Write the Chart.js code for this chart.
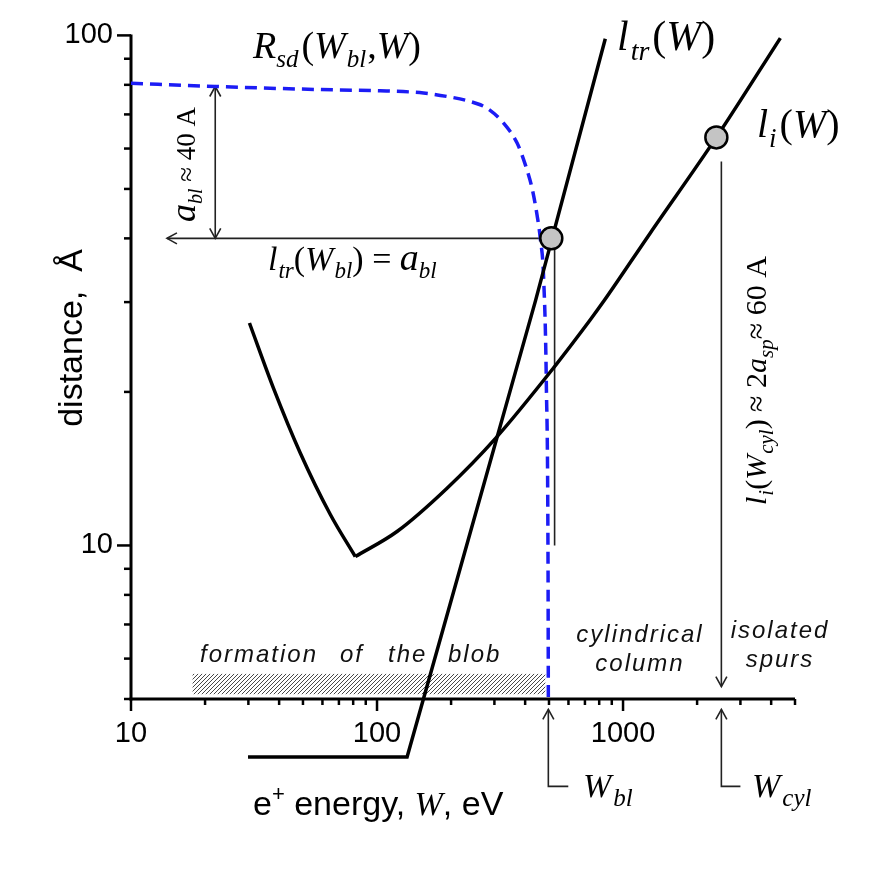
<!DOCTYPE html>
<html>
<head>
<meta charset="utf-8">
<script src="https://cdn.jsdelivr.net/npm/chart.js@4.4.1/dist/chart.umd.min.js"></script>
<style>
  html, body { margin: 0; padding: 0; background: #fff; }
  #wrap { width: 872px; height: 872px; }
</style>
</head>
<body>
<div id="wrap"><canvas id="chart" width="872" height="872"></canvas></div>
<script>
// values: energy W in eV, distance in Angstrom
const rsdEnergy   = [10, 22, 66.4, 103, 154.5, 192.6, 239.4, 280, 327, 371, 400.6, 426.6, 447, 461, 475.6, 487.8, 495.6, 497];
const rsdDistance = [80.6, 79.4, 78.2, 77.9, 77.1, 75.9, 74.2, 72.0, 67.3, 61.5, 55.8, 50.2, 44.5, 40.0, 33.4, 20.7, 9.17, 5];

const ltrEnergy   = [29.9, 132.5, 218, 440, 847];
const ltrDistance = [3.85, 3.85, 9.03, 30.1, 98.5];

const liEnergy    = [30.3, 38.0, 48.7, 64.6, 81.6, 120.6, 192.6, 302.6, 522, 736, 834, 1291, 2395, 4359];
const liDistance  = [27.3, 20.3, 15.2, 11.5, 9.51, 10.65, 12.95, 16.2, 22.3, 27.7, 30.1, 41.0, 63.1, 98.8];
const liMinIndex  = 4;

const markEnergy   = [511, 2395];
const markDistance = [40, 63.1];

const xTicks  = [10, 20, 30, 40, 50, 60, 70, 80, 90, 100, 200, 300, 400, 500, 600, 700, 800, 900, 1000, 2000, 3000, 4000, 5000];
const xLabels = [10, 100, 1000];
const yTicks  = [5, 6, 7, 8, 9, 10, 20, 30, 40, 50, 60, 70, 80, 90, 100];
const yLabels = [10, 100];

const wBl = 497;          // W_bl
const wCyl = 2510;        // W_cyl
const aBl = 40;           // a_bl
const aBlArrowW = 22;
const abArrowTipW = 14;
const ltrDropW = 527;
const liDropTop = 56.6;
const liDropEnd = 5.29;
const belowAxis = [3.37, 4.77];
const bracketEnd = [599, 3000];
const blobEnergy = [17.8, 483];
const blobDistance = [5.11, 5.6];

const SERIF = '"Liberation Serif", "Times New Roman", serif';
const SANS = '"Liberation Sans", Arial, sans-serif';
function fnt(size, italic, fam) { return (italic ? 'italic ' : '') + size + 'px ' + fam; }

function pts(xs, ys) { return xs.map((x, i) => ({x: x, y: ys[i]})); }

function rich(ctx, x, y, runs) {
  let cx = x;
  runs.forEach(r => {
    ctx.font = r.f;
    ctx.fillText(r.t, cx, y + (r.dy || 0));
    cx += ctx.measureText(r.t).width + (r.gap || 0);
  });
}

function line(ctx, x1, y1, x2, y2) {
  ctx.beginPath(); ctx.moveTo(x1, y1); ctx.lineTo(x2, y2); ctx.stroke();
}

function head(ctx, x, y, dx, dy) {
  const len = 10, half = 5.5;
  const bx = x - dx * len, by = y - dy * len;
  ctx.beginPath();
  ctx.moveTo(bx - dy * half, by + dx * half);
  ctx.lineTo(x, y);
  ctx.lineTo(bx + dy * half, by - dx * half);
  ctx.stroke();
}

function hatch(ctx) {
  const c = document.createElement('canvas');
  c.width = 4; c.height = 4;
  const g = c.getContext('2d');
  g.strokeStyle = '#333'; g.lineWidth = 0.9;
  g.beginPath();
  g.moveTo(0, 4); g.lineTo(4, 0);
  g.moveTo(-1, 1); g.lineTo(1, -1);
  g.moveTo(3, 5); g.lineTo(5, 3);
  g.stroke();
  return ctx.createPattern(c, 'repeat');
}

const decor = {
  id: 'decor',
  beforeDatasetsDraw(chart) {
    const {ctx, chartArea: a, scales: {x, y}} = chart;
    const px = v => x.getPixelForValue(v), py = v => y.getPixelForValue(v);
    ctx.save();

    // hatched band
    ctx.fillStyle = hatch(ctx);
    ctx.fillRect(px(blobEnergy[0]), py(blobDistance[1]), px(blobEnergy[1]) - px(blobEnergy[0]), py(blobDistance[0]) - py(blobDistance[1]));

    ctx.fillStyle = '#111';
    ctx.font = fnt(24, true, SANS);
    ctx.letterSpacing = '2px';
    ctx.textBaseline = 'alphabetic';
    const words = ['formation', 'of', 'the', 'blob'];
    const wx = [200, 340, 388, 448];
    words.forEach((w, i) => ctx.fillText(w, wx[i], 662));
    ctx.letterSpacing = '0px';

    // axes and ticks
    ctx.strokeStyle = '#000';
    ctx.lineWidth = 3;
    line(ctx, a.left, a.top - 1, a.left, a.bottom + 1.5);
    line(ctx, a.left - 1.5, a.bottom, a.right, a.bottom);
    ctx.lineWidth = 2.5;
    yTicks.forEach(v => {
      const len = yLabels.includes(v) ? 14 : 7;
      line(ctx, a.left - len, py(v), a.left, py(v));
    });
    xTicks.forEach(v => {
      const len = xLabels.includes(v) ? 12 : 6;
      line(ctx, px(v), a.bottom, px(v), a.bottom + len);
    });

    // thin construction lines
    ctx.strokeStyle = '#222';
    ctx.lineWidth = 1.6;
    line(ctx, px(markEnergy[0]), py(aBl), px(abArrowTipW), py(aBl));
    head(ctx, px(abArrowTipW), py(aBl), -1, 0);
    line(ctx, px(aBlArrowW), py(rsdDistance[1]), px(aBlArrowW), py(aBl));
    head(ctx, px(aBlArrowW), py(rsdDistance[1]), 0, -1);
    head(ctx, px(aBlArrowW), py(aBl), 0, 1);
    line(ctx, px(ltrDropW), py(aBl), px(ltrDropW), py(10));
    line(ctx, px(wCyl), py(liDropTop), px(wCyl), py(liDropEnd));
    head(ctx, px(wCyl), py(liDropEnd), 0, 1);
    [wBl, wCyl].forEach((w, i) => {
      ctx.beginPath();
      ctx.moveTo(px(bracketEnd[i]), py(belowAxis[0]));
      ctx.lineTo(px(w), py(belowAxis[0]));
      ctx.lineTo(px(w), py(belowAxis[1]));
      ctx.stroke();
      head(ctx, px(w), py(belowAxis[1]), 0, -1);
    });
    ctx.restore();
  },
  afterDraw(chart) {
    const {ctx} = chart;
    ctx.save();
    ctx.fillStyle = '#000';
    ctx.textBaseline = 'alphabetic';
    ctx.textAlign = 'left';

    rich(ctx, 253, 58, [
      {t: 'R', f: fnt(38, true, SERIF)},
      {t: 'sd', f: fnt(25, true, SERIF), dy: 9, gap: 3},
      {t: '(', f: fnt(38, false, SERIF)},
      {t: 'W', f: fnt(38, true, SERIF), gap: 1},
      {t: 'bl', f: fnt(25, true, SERIF), dy: 9, gap: 1},
      {t: ',', f: fnt(38, false, SERIF)},
      {t: 'W', f: fnt(38, true, SERIF)},
      {t: ')', f: fnt(38, false, SERIF)}
    ]);
    rich(ctx, 617, 50, [
      {t: 'l', f: fnt(42, true, SERIF), gap: 2},
      {t: 'tr', f: fnt(28, true, SERIF), dy: 10, gap: 3},
      {t: '(', f: fnt(42, false, SERIF)},
      {t: 'W', f: fnt(42, true, SERIF)},
      {t: ')', f: fnt(42, false, SERIF)}
    ]);
    rich(ctx, 757, 137, [
      {t: 'l', f: fnt(40, true, SERIF), gap: 1},
      {t: 'i', f: fnt(27, true, SERIF), dy: 10, gap: 3},
      {t: '(', f: fnt(40, false, SERIF)},
      {t: 'W', f: fnt(40, true, SERIF)},
      {t: ')', f: fnt(40, false, SERIF)}
    ]);
    rich(ctx, 268, 270, [
      {t: 'l', f: fnt(34, true, SERIF), gap: 1},
      {t: 'tr', f: fnt(23, true, SERIF), dy: 8},
      {t: '(', f: fnt(34, false, SERIF)},
      {t: 'W', f: fnt(34, true, SERIF), gap: 1},
      {t: 'bl', f: fnt(23, true, SERIF), dy: 8},
      {t: ') = ', f: fnt(34, false, SERIF)},
      {t: 'a', f: fnt(38, true, SERIF)},
      {t: 'bl', f: fnt(23, true, SERIF), dy: 8}
    ]);
    rich(ctx, 583, 797, [
      {t: 'W', f: fnt(34, true, SERIF), gap: 2},
      {t: 'bl', f: fnt(25, true, SERIF), dy: 9}
    ]);
    rich(ctx, 752, 797, [
      {t: 'W', f: fnt(34, true, SERIF), gap: 2},
      {t: 'cyl', f: fnt(25, true, SERIF), dy: 9}
    ]);

    // rotated annotations
    ctx.save();
    ctx.translate(195, 222);
    ctx.rotate(-Math.PI / 2);
    rich(ctx, 0, 0, [
      {t: 'a', f: fnt(36, true, SERIF)},
      {t: 'bl', f: fnt(20, true, SERIF), dy: 7},
      {t: ' \u2248 40 A', f: fnt(27, false, SERIF)}
    ]);
    ctx.restore();

    ctx.save();
    ctx.translate(766, 505);
    ctx.rotate(-Math.PI / 2);
    rich(ctx, 0, 0, [
      {t: 'l', f: fnt(30, true, SERIF), gap: 1},
      {t: 'i', f: fnt(21, true, SERIF), dy: 7},
      {t: '(', f: fnt(30, false, SERIF)},
      {t: 'W', f: fnt(30, true, SERIF), gap: 1},
      {t: 'cyl', f: fnt(21, true, SERIF), dy: 7},
      {t: ') \u2248 2', f: fnt(30, false, SERIF)},
      {t: 'a', f: fnt(30, true, SERIF)},
      {t: 'sp', f: fnt(21, true, SERIF), dy: 7},
      {t: '\u2248 60 A', f: fnt(30, false, SERIF)}
    ]);
    ctx.restore();

    // region labels
    ctx.fillStyle = '#111';
    ctx.font = fnt(24, true, SANS);
    ctx.letterSpacing = '2px';
    ctx.textAlign = 'center';
    ctx.fillText('cylindrical', 640, 642);
    ctx.fillText('column', 640, 671);
    ctx.fillText('isolated', 780, 638);
    ctx.fillText('spurs', 780, 667);
    ctx.letterSpacing = '0px';

    // axis titles
    ctx.fillStyle = '#000';
    ctx.save();
    ctx.translate(82, 338);
    ctx.rotate(-Math.PI / 2);
    ctx.font = fnt(34, false, SANS);
    ctx.fillText('distance,  \u00C5', 0, 0);
    ctx.restore();

    ctx.textAlign = 'left';
    rich(ctx, 253, 815, [
      {t: 'e', f: fnt(34, false, SANS)},
      {t: '+', f: fnt(22, false, SANS), dy: -14},
      {t: ' energy, ', f: fnt(34, false, SANS)},
      {t: 'W', f: fnt(34, true, SERIF)},
      {t: ', eV', f: fnt(34, false, SANS)}
    ]);
    ctx.restore();
  }
};

const lineBase = {
  showLine: true,
  pointRadius: 0,
  pointHoverRadius: 0,
  fill: false,
  clip: false,
  borderColor: '#000',
  borderWidth: 3.5
};

const liPoints = pts(liEnergy, liDistance);

new Chart(document.getElementById('chart'), {
  type: 'scatter',
  data: {
    datasets: [
      {
        label: 'marks',
        data: pts(markEnergy, markDistance),
        showLine: false,
        pointRadius: 11,
        pointHoverRadius: 11,
        pointBackgroundColor: '#c4c4c4',
        pointBorderColor: '#000',
        pointBorderWidth: 2.5,
        clip: false
      },
      Object.assign({}, lineBase, {
        label: 'l_tr',
        data: pts(ltrEnergy, ltrDistance),
        tension: 0
      }),
      Object.assign({}, lineBase, {
        label: 'l_i (low W)',
        data: liPoints.slice(0, liMinIndex + 1),
        cubicInterpolationMode: 'monotone'
      }),
      Object.assign({}, lineBase, {
        label: 'l_i',
        data: liPoints.slice(liMinIndex),
        cubicInterpolationMode: 'monotone'
      }),
      Object.assign({}, lineBase, {
        label: 'R_sd',
        data: pts(rsdEnergy, rsdDistance),
        borderColor: '#1c1cf5',
        borderDash: [12, 7],
        cubicInterpolationMode: 'monotone'
      })
    ]
  },
  options: {
    responsive: false,
    animation: false,
    events: [],
    layout: { padding: { top: 34, right: 77, left: 0, bottom: 0 } },
    plugins: {
      legend: { display: false },
      tooltip: { enabled: false }
    },
    scales: {
      x: {
        type: 'logarithmic',
        position: 'bottom',
        min: 10,
        max: 5000,
        afterFit: s => { s.height = 173; },
        afterBuildTicks: s => { s.ticks = xTicks.map(v => ({value: v})); },
        grid: { display: false, drawTicks: false },
        border: { display: false },
        ticks: {
          autoSkip: false,
          maxRotation: 0,
          padding: 18,
          color: '#000',
          font: { family: 'Liberation Sans', size: 29 },
          callback: v => xLabels.includes(v) ? String(v) : ''
        }
      },
      y: {
        type: 'logarithmic',
        min: 5,
        max: 100,
        afterFit: s => { s.width = 131; },
        afterBuildTicks: s => { s.ticks = yTicks.map(v => ({value: v})); },
        grid: { display: false, drawTicks: false },
        border: { display: false },
        ticks: {
          autoSkip: false,
          padding: 18,
          color: '#000',
          font: { family: 'Liberation Sans', size: 29 },
          callback: v => yLabels.includes(v) ? String(v) : ''
        }
      }
    }
  },
  plugins: [decor]
});
</script>
</body>
</html>
